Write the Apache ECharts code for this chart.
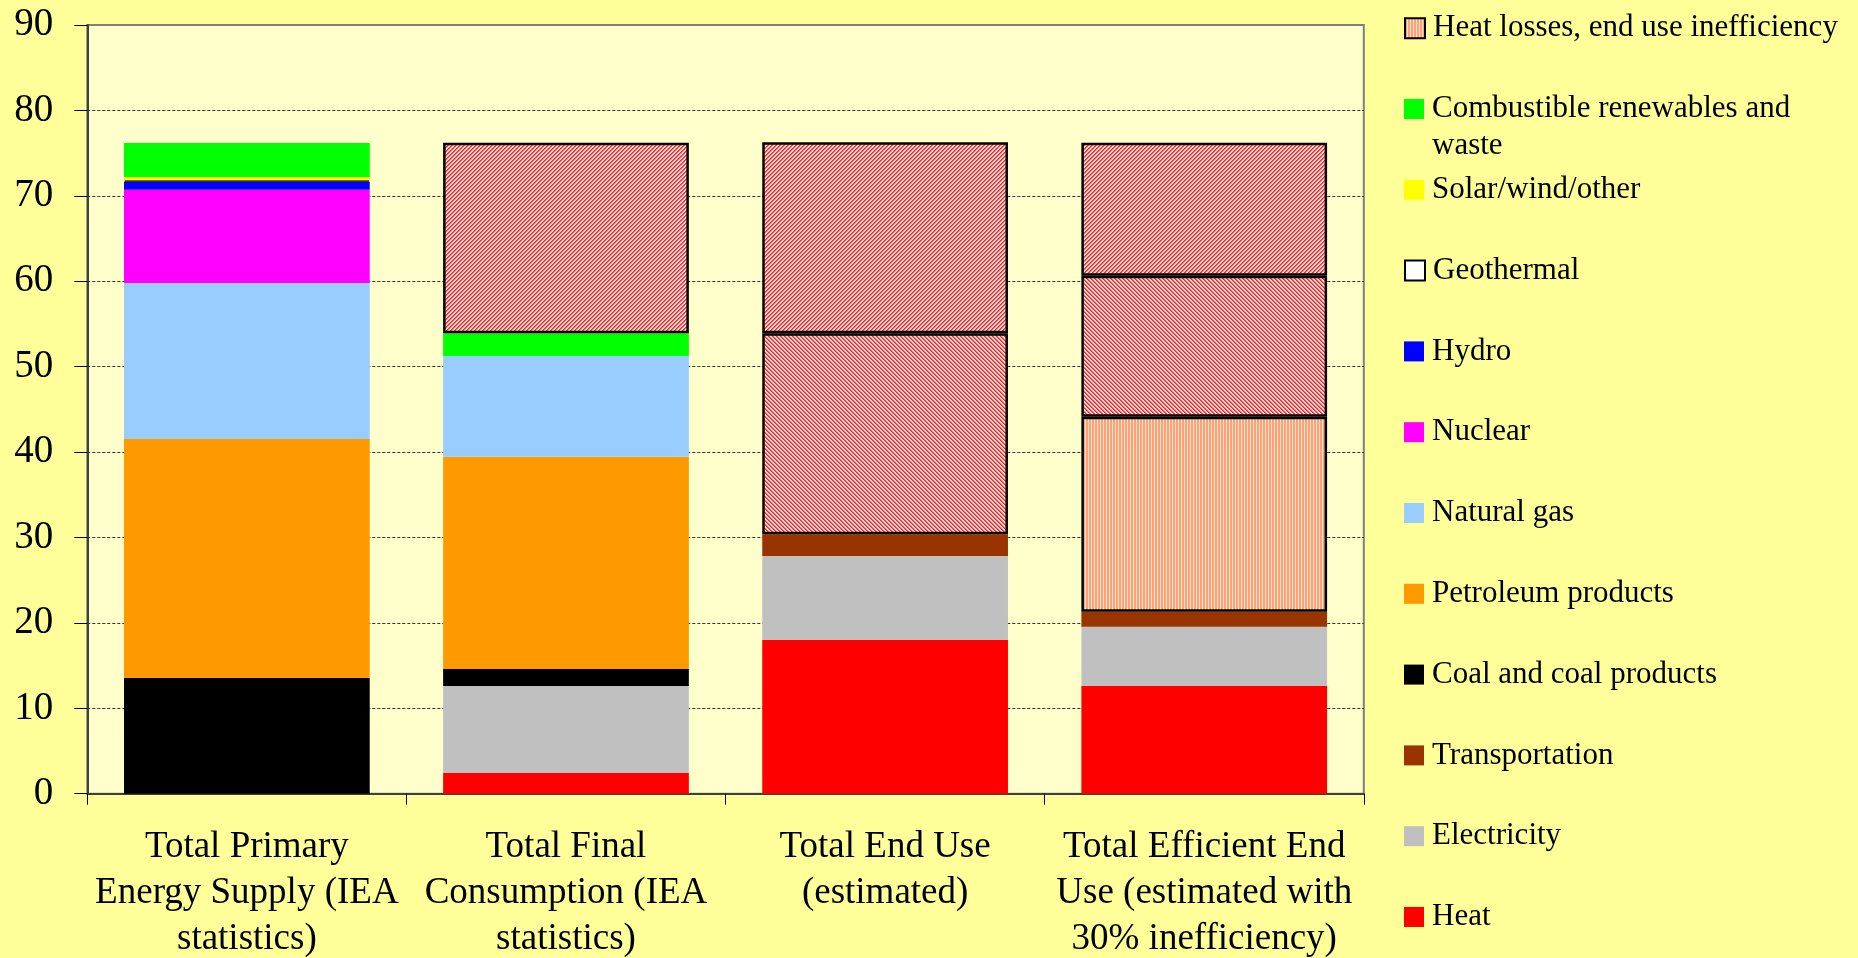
<!DOCTYPE html>
<html>
<head>
<meta charset="utf-8">
<script src="https://cdn.jsdelivr.net/npm/echarts@6/dist/echarts.min.js"></script>
<style>
  html, body { margin: 0; padding: 0; background: #FFFF99; }
  #chart { width: 1858px; height: 958px; }
</style>
</head>
<body>
<div id="chart"></div>
<script>
// Categories along the x axis
const categories = [
  'Total Primary\nEnergy Supply (IEA\nstatistics)',
  'Total Final\nConsumption (IEA\nstatistics)',
  'Total End Use\n(estimated)',
  'Total Efficient End\nUse (estimated with\n30% inefficiency)'
];

// Stacked values per category (null = no segment)
const heat           = [null, 2.42, 18.0, 12.61];
const electricity    = [null, 10.19, 9.83, 6.94];
const transportation = [null, null, 2.54, 1.76];
const coal           = [13.58, 1.99, null, null];
const petroleum      = [27.95, 24.86, null, null];
const naturalGas     = [18.26, 11.79, null, null];
const nuclear        = [10.93, null, null, null];
const hydro          = [0.94, null, null, null];
const geothermal     = [0.15, null, null, null];
const solarWind      = [0.4, null, null, null];
const combustible    = [3.97, 2.65, null, null];
const heatLosses     = [null, null, null, 22.83];
const lossesLower    = [null, null, 23.53, 16.51];
const lossesUpper    = [null, 22.32, 22.36, 15.55];

// Value axis range
const yMin = 0, yMax = 90, yStep = 10;

const FONT = '"Liberation Serif", "Times New Roman", serif';

function stripePattern() {
  const c = document.createElement('canvas');
  c.width = 3; c.height = 1;
  const g = c.getContext('2d');
  g.fillStyle = '#FFA077'; g.fillRect(0, 0, 3, 1);
  g.fillStyle = '#FFE6CC'; g.fillRect(2, 0, 1, 1);
  return c;
}
function diagPattern(dir) {
  const c = document.createElement('canvas');
  c.width = 4; c.height = 4;
  const g = c.getContext('2d');
  g.fillStyle = '#FFDCDC'; g.fillRect(0, 0, 4, 4);
  for (let y = 0; y < 4; y++) {
    for (let x = 0; x < 4; x++) {
      const k = dir > 0 ? (x + y) % 4 : ((x - y) % 4 + 4) % 4;
      if (k === 0) { g.fillStyle = '#FF2020'; g.fillRect(x, y, 1, 1); }
      else if (k === 1) { g.fillStyle = '#FF5A5A'; g.fillRect(x, y, 1, 1); }
    }
  }
  return c;
}

const stripeFill = { image: stripePattern(), repeat: 'repeat' };
const diagFillA = { image: diagPattern(1), repeat: 'repeat' };
const diagFillB = { image: diagPattern(-1), repeat: 'repeat' };

const outlined = { borderColor: '#000', borderWidth: 2.5 };

// Bottom-to-top stacking order
const seriesDefs = [
  { name: 'Heat', data: heat, style: { color: '#FF0000' } },
  { name: 'Electricity', data: electricity, style: { color: '#C0C0C0' } },
  { name: 'Transportation', data: transportation, style: { color: '#993300' } },
  { name: 'Coal and coal products', data: coal, style: { color: '#000000' } },
  { name: 'Petroleum products', data: petroleum, style: { color: '#FF9900' } },
  { name: 'Natural gas', data: naturalGas, style: { color: '#99CCFF' } },
  { name: 'Nuclear', data: nuclear, style: { color: '#FF00FF' } },
  { name: 'Hydro', data: hydro, style: { color: '#0000FF' } },
  { name: 'Geothermal', data: geothermal, style: { color: '#FFFFFF', borderColor: '#000', borderWidth: 1.5 } },
  { name: 'Solar/wind/other', data: solarWind, style: { color: '#FFFF00' } },
  { name: 'Combustible renewables and waste', data: combustible, style: { color: '#00FF00' } },
  { name: 'Heat losses, end use inefficiency', data: heatLosses, style: Object.assign({ color: stripeFill }, outlined) },
  { name: 'End use losses', data: lossesLower, style: Object.assign({ color: diagFillB }, outlined) },
  { name: 'Conversion losses', data: lossesUpper, style: Object.assign({ color: diagFillA }, outlined) }
];

// Legend entries, top to bottom
const legendNames = [
  'Heat losses, end use inefficiency',
  'Combustible renewables and waste',
  'Solar/wind/other',
  'Geothermal',
  'Hydro',
  'Nuclear',
  'Natural gas',
  'Petroleum products',
  'Coal and coal products',
  'Transportation',
  'Electricity',
  'Heat'
];
const WRAPPED = 'Combustible renewables and waste';

const LEG_LINE = 37;
const legendFirst = 28.2, legendStep = 80.8;
const legends = legendNames.map((name, i) => {
  const wrapped = name === WRAPPED;
  const center = legendFirst + i * legendStep;
  return {
    orient: 'vertical',
    left: 1404,
    top: center - (wrapped ? LEG_LINE * 1.5 : LEG_LINE / 2),
    padding: 0,
    icon: 'rect',
    itemWidth: 20,
    itemHeight: 20,
    selectedMode: false,
    // the long entry wraps below its first line, which stays level with the swatch
    formatter: n => (n === WRAPPED ? '\nCombustible renewables and\nwaste' : n),
    textStyle: {
      fontFamily: FONT,
      fontSize: 31,
      color: '#000',
      lineHeight: LEG_LINE,
      padding: [0, 0, 0, 3]
    },
    data: [name]
  };
});

const chart = echarts.init(document.getElementById('chart'), null, { renderer: 'canvas' });

chart.setOption({
  animation: false,
  backgroundColor: '#FFFF99',
  grid: {
    left: 87.3,
    right: 494.2,
    top: 25,
    bottom: 164.3,
    outerBoundsMode: 'none',
    containLabel: false,
    show: true,
    backgroundColor: '#FFFFCC',
    borderColor: '#808080',
    borderWidth: 2
  },
  legend: legends,
  xAxis: {
    type: 'category',
    data: categories,
    axisLine: { show: true, lineStyle: { color: '#404040', width: 2 } },
    axisTick: { show: true, length: 11, lineStyle: { color: '#000', width: 1 } },
    axisLabel: {
      interval: 0,
      margin: 31,
      fontFamily: FONT,
      fontSize: 37,
      lineHeight: 46,
      color: '#000'
    },
    splitLine: { show: false }
  },
  yAxis: {
    type: 'value',
    min: yMin,
    max: yMax,
    interval: yStep,
    axisLine: { show: true, lineStyle: { color: '#404040', width: 2 } },
    axisTick: { show: true, length: 13, lineStyle: { color: '#000', width: 1 } },
    axisLabel: {
      margin: 34,
      fontFamily: FONT,
      fontSize: 39,
      color: '#000'
    },
    splitLine: {
      show: true,
      showMinLine: false,
      showMaxLine: false,
      lineStyle: { color: '#333', width: 1, type: [3, 2] }
    }
  },
  series: seriesDefs.map(d => ({
    name: d.name,
    type: 'bar',
    stack: 'energy',
    barCategoryGap: '23%',
    data: d.data.map(v => (v == null ? '-' : v)),
    itemStyle: d.style,
    emphasis: { disabled: true }
  }))
});
</script>
</body>
</html>
